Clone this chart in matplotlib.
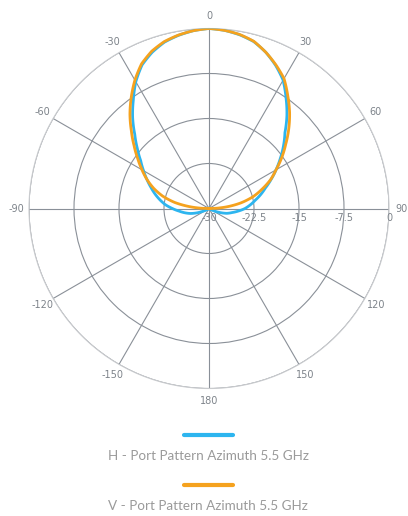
import numpy as np
import matplotlib
matplotlib.use("Agg")
import matplotlib.pyplot as plt
from matplotlib.lines import Line2D

# pattern data (dB), angle in degrees, clockwise from north
angles = [-180, -150, -125, -120, -115, -110, -105, -100, -95, -90, -85, -80, -75, -70, -65,
          -60, -55, -50, -45, -40, -35, -30, -25, -20, -15, -10, -5,
          0, 5, 10, 15, 20, 25, 30, 35, 40, 45, 50, 55, 60, 65, 70, 75, 80, 85, 90,
          95, 100, 105, 110, 115, 120, 125, 150, 180]
h_port = [-30, -30, -30, -29.6, -29.0, -27.9, -26.8, -25.9, -25.0, -23.9, -22.7, -21.7, -20.7, -19.7, -18.6,
          -17.4, -16.1, -14.4, -12.5, -10.2, -8.0, -5.6, -3.6, -2.3, -1.3, -0.7, -0.25,
          0, -0.2, -0.6, -1.2, -2.3, -3.7, -5.3, -7.6, -9.8, -12.1, -13.8, -15.5, -17.1, -18.6, -20.0, -21.1, -22.2, -23.1, -24.0,
          -25.1, -26.1, -26.9, -28.0, -29.0, -29.7, -30, -30, -30]
v_port = [-30, -30, -30, -30, -30, -30, -30, -30, -30, -30, -27.0, -24.2, -22.0, -20.2, -18.6,
          -17.1, -15.5, -13.7, -11.7, -9.5, -7.4, -5.3, -3.4, -2.1, -1.2, -0.65, -0.25,
          0, -0.2, -0.55, -1.15, -2.3, -3.6, -5.0, -7.1, -9.1, -11.2, -13.3, -15.2, -17.1, -18.7, -20.6, -22.4, -24.6, -27.2, -30,
          -30, -30, -30, -30, -30, -30, -30, -30, -30]
series_names = ["H - Port Pattern Azimuth 5.5 GHz", "V - Port Pattern Azimuth 5.5 GHz"]
series_colors = ["#2db5ef", "#f5a21e"]

r_ticks = [-30, -22.5, -15, -7.5, 0]
r_labels = ["-30", "-22.5", "-15", "-7.5", "0"]
theta_ticks = [0, 30, 60, 90, 120, 150, 180, 210, 240, 270, 300, 330]
theta_labels = ["0", "30", "60", "90", "120", "150", "180", "-150", "-120", "-90", "-60", "-30"]

grid_col = "#8a9098"
text_col = "#7d838a"

fig = plt.figure(figsize=(4.08, 5.16), dpi=100)
ax = fig.add_axes([29 / 408, 1 - 388.5 / 516, 360 / 408, 360 / 516], projection="polar")
ax.set_theta_zero_location("N")
ax.set_theta_direction(-1)
ax.set_ylim(-30, 0)

th = np.deg2rad(angles)
for vals, col, z in [(h_port, series_colors[0], 4), (v_port, series_colors[1], 5)]:
    ln, = ax.plot(th, vals, color=col, lw=2.0, zorder=z, solid_joinstyle="round")
    ln.get_path()._interpolation_steps = 8

ax.set_thetagrids(theta_ticks, theta_labels, color=text_col, fontsize=7)
ax.tick_params(axis="x", pad=-1.5)
ax.set_rgrids(r_ticks, labels=[""] * len(r_ticks))
ax.grid(True, color=grid_col, lw=0.8)
ax.spines["polar"].set_color("#c9cbce")
ax.spines["polar"].set_linewidth(0.8)

for r, lab in zip(r_ticks, r_labels):
    ax.annotate(lab, xy=(np.pi / 2, r), xytext=(0, -3), textcoords="offset points",
                ha="center", va="top", color=text_col, fontsize=7)

# legend drawn below the chart
for i, (name, col) in enumerate(zip(series_names, series_colors)):
    y_line = 1 - (435 + 50 * i) / 516
    y_text = 1 - (456 + 50 * i) / 516
    fig.add_artist(Line2D([184 / 408, 233 / 408], [y_line, y_line], color=col, lw=3,
                          solid_capstyle="round", transform=fig.transFigure))
    fig.text(0.51, y_text, name, ha="center", va="center", color="#9a9a9a",
             fontsize=9.7, family="Lato")

fig.savefig("out.png", dpi=100)
